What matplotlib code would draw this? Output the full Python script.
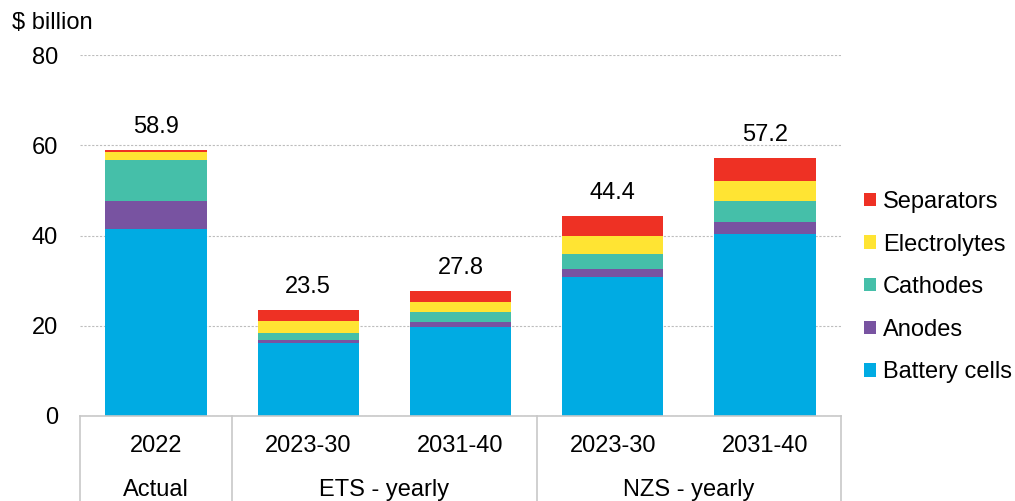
import matplotlib
matplotlib.use("Agg")
import matplotlib.pyplot as plt
from matplotlib.patches import Patch
import numpy as np

plt.rcParams['font.family'] = ['Liberation Sans', 'DejaVu Sans']

periods = ["2022", "2023-30", "2031-40", "2023-30", "2031-40"]
groups = ["Actual", "ETS - yearly", "NZS - yearly"]
group_sizes = [1, 2, 2]
series_names = ["Battery cells", "Anodes", "Cathodes", "Electrolytes", "Separators"]
battery_cells = [41.5, 16.1, 19.7, 30.9, 40.3]
anodes = [6.2, 0.8, 1.1, 1.7, 2.7]
cathodes = [9.1, 1.6, 2.3, 3.3, 4.6]
electrolytes = [1.8, 2.6, 2.2, 4.1, 4.5]
separators = [0.3, 2.4, 2.5, 4.4, 5.1]
totals = [58.9, 23.5, 27.8, 44.4, 57.2]
colors = ["#00ABE3", "#7853A1", "#45BFA9", "#FFE433", "#EE3124"]

series = [battery_cells, anodes, cathodes, electrolytes, separators]
FS = 17

fig = plt.figure(figsize=(10.15, 5.01), dpi=100)
ax = fig.add_axes([80/1015, 85/501, 761/1015, 361/501])

x = np.arange(len(periods))
bottom = np.zeros(len(periods))
handles = []
for vals, name, c in zip(series, series_names, colors):
    ax.bar(x, vals, bottom=bottom, width=0.665, color=c, label=name, edgecolor='none')
    bottom += np.array(vals)
    handles.append(Patch(facecolor=c, label=name))

for xi, t in zip(x, totals):
    ax.annotate(f"{t:.1f}", (xi, t), xytext=(0, 8.5), textcoords='offset points',
                ha='center', va='bottom', fontsize=FS)

ax.set_xlim(-0.5, len(periods) - 0.5)
ax.set_ylim(0, 80)
ax.set_yticks([0, 20, 40, 60, 80])
ax.tick_params(axis='y', length=0, pad=16, labelsize=FS)
ax.set_xticks([])
ax.yaxis.grid(True, linestyle=(0, (2, 1.5)), color='#bdbdbd', linewidth=0.8)
ax.set_axisbelow(True)
for s in ['top', 'right', 'left']:
    ax.spines[s].set_visible(False)
ax.spines['bottom'].set_color('#c8c8c8')
ax.spines['bottom'].set_linewidth(1.2)

# category labels
for xi, p in zip(x, periods):
    ax.text(xi, -0.083, p, transform=ax.get_xaxis_transform(), ha='center', va='center', fontsize=FS)
# group labels and separators
start = 0
bounds = [-0.5]
for g, n in zip(groups, group_sizes):
    center = start + (n - 1) / 2
    ax.text(center, -0.205, g, transform=ax.get_xaxis_transform(), ha='center', va='center', fontsize=FS)
    start += n
    bounds.append(start - 0.5)
for b in bounds:
    ax.plot([b, b], [0, -0.25], transform=ax.get_xaxis_transform(), color='#c8c8c8',
            linewidth=1.2, clip_on=False)

fig.text(12/1015, 1 - 23/501, "$ billion", ha='left', va='center', fontsize=FS)

leg = ax.legend(handles=handles[::-1], loc='center left', frameon=False, fontsize=FS,
                handlelength=0.5, handleheight=0.5,
                handletextpad=0.3, labelspacing=0.87, borderaxespad=0)
leg.set_bbox_to_anchor((1.018, 0.357), transform=ax.transAxes)

fig.savefig("out.png", dpi=100)
